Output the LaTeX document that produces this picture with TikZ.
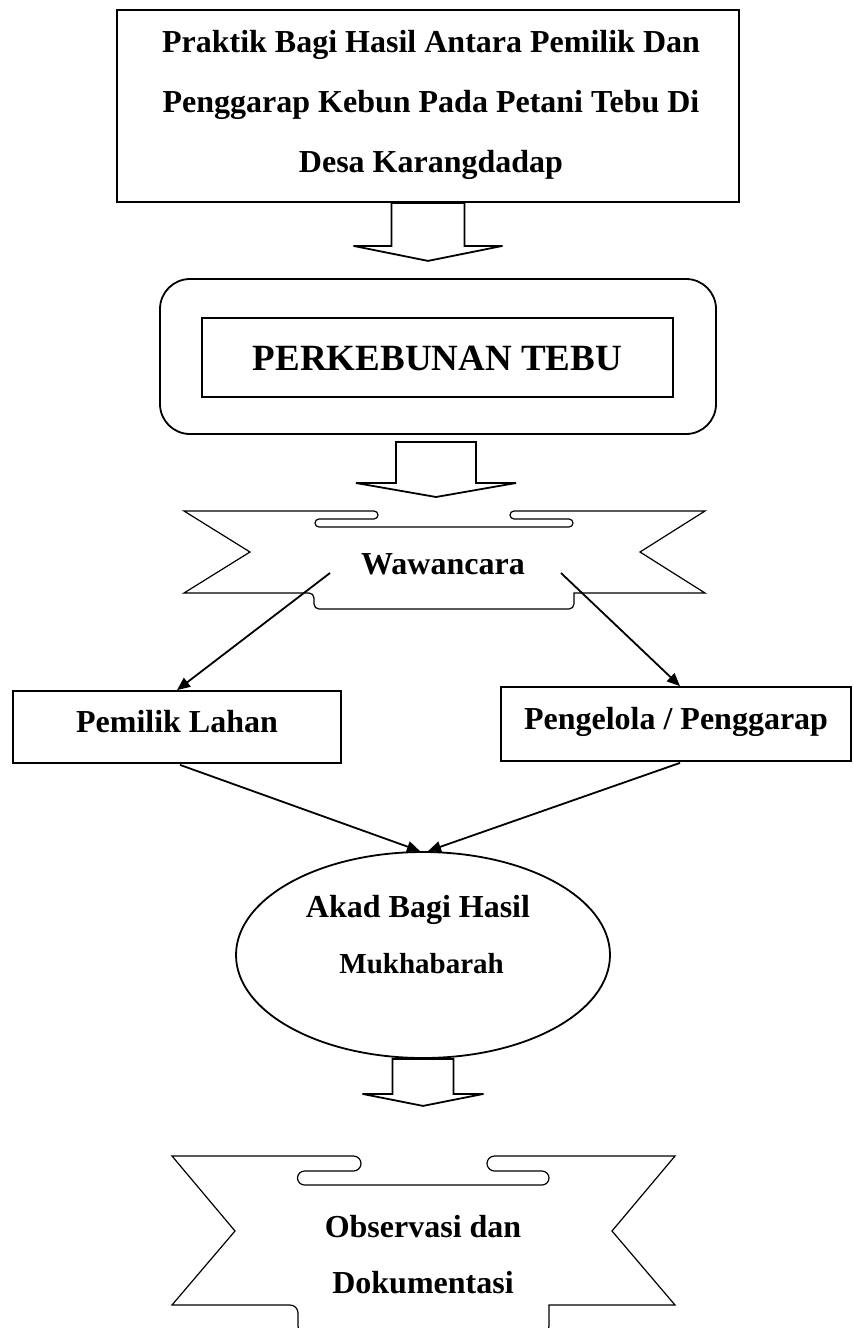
\documentclass[tikz,border=0pt]{standalone}
\usepackage{fontspec}
\setmainfont{Liberation Serif}
\usetikzlibrary{shapes.geometric, arrows.meta, positioning, calc}

% block arrow: top centre, half shaft, shaft length, half wings, head length
\newcommand\fatarrow[5]{%
  \draw[fat] (#1) ++(-#2,0) -- ++(0,#3) -- ++(#2-#4,0) -- ++(#4,#5)
    -- ++(#4,-#5) -- ++(#2-#4,0) -- ++(0,-#3) -- cycle;}

\begin{document}
\begin{tikzpicture}[x=0.5pt, y=-0.5pt,
  box/.style={rectangle, draw, line width=0.9pt, inner sep=0pt},
  txt/.style={font=\bfseries\fontsize{16}{30}\selectfont, align=center, inner sep=0pt},
  fat/.style={line width=0.9pt, line join=miter},
  ribbon/.style={line width=0.6pt},
  arrow/.style={-{Triangle[length=6.5pt, width=5.5pt]}, line width=0.9pt}
]
  \useasboundingbox (0,0) rectangle (853,1328);
  \clip (0,0) rectangle (853,1328);

  % Title
  \node[box, minimum width=311pt, minimum height=96pt] (title) at (428,106) {};
  \node[txt, anchor=base] (titletext) at (431,172)
    {Praktik Bagi Hasil Antara Pemilik Dan\\ Penggarap Kebun Pada Petani Tebu Di\\ Desa Karangdadap};
  \fatarrow{title.south}{36.5}{43}{74.5}{15}

  % Perkebunan
  \node[box, rounded corners=15pt, minimum width=278pt, minimum height=77.5pt] (kebun) at (438,356.5) {};
  \node[box, minimum width=235.5pt, minimum height=39.5pt] (tebu) at (437.5,357.5) {};
  \node[txt, font=\bfseries\fontsize{18.5}{30}\selectfont, anchor=base] (tebutext) at (437.5,370) {PERKEBUNAN TEBU};
  \coordinate (k2) at (436,442);
  \fatarrow{k2}{40}{41}{80}{14}

  % Wawancara ribbon
  \draw[ribbon] (184,511) -- (374,511) arc(-90:90:4) -- (319,519) arc(270:90:4)
    -- (569,527) arc(90:-90:4) -- (514,519) arc(90:270:4) -- (705,511)
    -- (640,552) -- (705,593) -- (574,593)
    {[rounded corners=2.5pt] -- (574,609) -- (314,609) -- (314,593)}
    -- (184,593) -- (250,552) -- cycle;
  \node[txt, anchor=base] (wawancara) at (443,574) {Wawancara};
  \coordinate (w1) at (330,573);
  \coordinate (w2) at (561,573);

  % Pemilik dan pengelola
  \node[box, minimum width=164pt, minimum height=36pt] (pemilik) at (177,727) {};
  \node[txt, anchor=base] (pemiliktext) at (177,732) {Pemilik Lahan};
  \node[box, minimum width=175pt, minimum height=37pt] (pengelola) at (676,724) {};
  \node[txt, anchor=base] (pengelolatext) at (676,729) {Pengelola / Penggarap};
  \draw[arrow] (w1) -- (pemilik.north);
  \draw[arrow] (w2) -- ($(pengelola.north)+(4,0)$);

  % Akad
  \node[ellipse, draw, line width=0.9pt, minimum width=187pt, minimum height=103pt, inner sep=0pt] (akad) at (423,955) {};
  \node[txt, anchor=base] (akadtext) at (418,973)
    {Akad Bagi Hasil\\[-2pt] {\fontsize{14.5}{30}\selectfont\ Mukhabarah}};
  \draw[arrow] ($(pemilik.south)+(3,1)$) -- ($(akad.north)+(-3,0)$);
  \draw[arrow] ($(pengelola.south)+(4,1)$) -- ($(akad.north)+(5,0)$);
  \fatarrow{akad.south}{30.5}{35}{60.5}{12}

  % Observasi ribbon
  \draw[ribbon] (172,1156) -- (353.5,1156) arc(-90:90:7.5) -- (304.5,1171) arc(270:90:7)
    -- (542,1185) arc(90:-90:7) -- (494.5,1171) arc(90:270:7.5) -- (675,1156)
    -- (612,1231) -- (675,1305) -- (549,1305)
    {[rounded corners=4pt] -- (549,1334) -- (298,1334) -- (298,1305)}
    -- (172,1305) -- (235,1231) -- cycle;
  \node[txt, anchor=base] (observasi) at (423,1293) {Observasi dan\\[-2pt] Dokumentasi};
\end{tikzpicture}
\end{document}
